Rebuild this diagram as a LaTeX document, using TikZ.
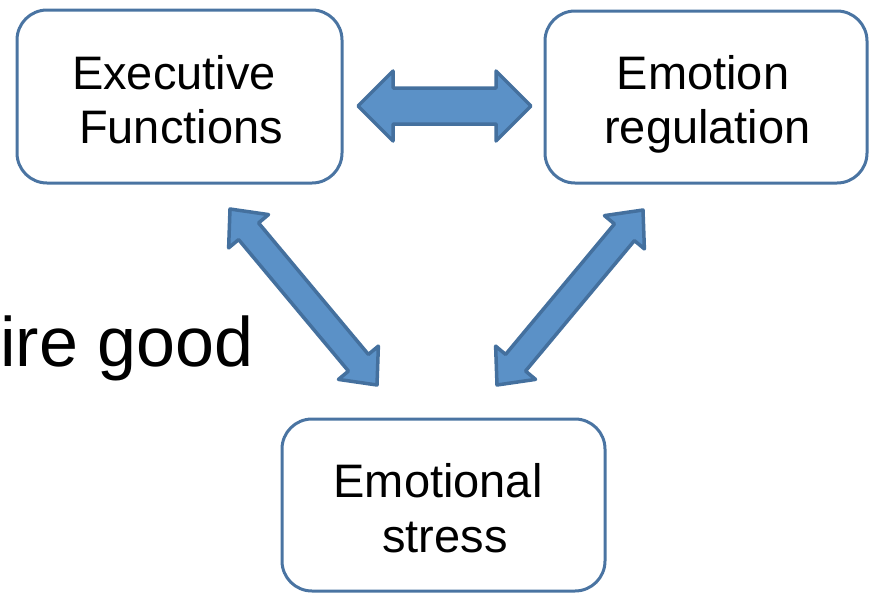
\documentclass[tikz,border=0pt]{standalone}
\usepackage{fontspec}
\setmainfont{Liberation Sans}
\usetikzlibrary{calc}
\definecolor{boxline}{RGB}{74,116,162}
\definecolor{arrfill}{RGB}{91,145,199}
\definecolor{arrline}{RGB}{68,112,158}
\newcommand\dblarr[5]{%
  \coordinate (#1-h) at ($(#1)!#3!(#2)$);
  \coordinate (#2-h) at ($(#2)!#3!(#1)$);
  \filldraw[fatarrow] (#1)
    -- ($(#1-h)!#4!90:(#2)$)
    -- ($(#1-h)!#5!90:(#2)$)
    -- ($(#2-h)!#5!-90:(#1)$)
    -- ($(#2-h)!#4!-90:(#1)$)
    -- (#2)
    -- ($(#2-h)!#4!90:(#1)$)
    -- ($(#2-h)!#5!90:(#1)$)
    -- ($(#1-h)!#5!-90:(#2)$)
    -- ($(#1-h)!#4!-90:(#2)$)
    -- cycle;}
\begin{document}
\begin{tikzpicture}[x=1pt,y=-1pt,
  box/.style={draw=boxline, line width=3pt, rounded corners=30pt, rectangle, inner sep=0pt},
  lbl/.style={font=\fontsize{47}{53}\selectfont, inner sep=0pt, anchor=base},
  fatarrow/.style={fill=arrfill, draw=arrline, line width=3.5pt, line join=round}]
\useasboundingbox (0,0) rectangle (870,592);
% boxes
\node[box, minimum width=325pt, minimum height=173pt] (ef) at (179.5,96.5) {};
\node[box, minimum width=322pt, minimum height=172pt] (er) at (706,97) {};
\node[box, minimum width=323pt, minimum height=172pt] (es) at (443.5,505) {};
% texts
\node[lbl] (ef1) at (174,89) {Executive};
\node[lbl] (ef2) at (181,143) {Functions};
\node[lbl] (er1) at (703,89) {Emotion};
\node[lbl] (er2) at (707.5,143) {regulation};
\node[lbl] (es1) at (438,497) {Emotional};
\node[lbl] (es2) at (445,552) {stress};
\node[font=\fontsize{70}{80}\selectfont, inner sep=0pt, anchor=base west] (ire) at (0,366) {ire good};
% arrow end points
\coordinate (efE) at (358,106);
\coordinate (erW) at (531,106);
\coordinate (efS) at (230,209);
\coordinate (esNW) at (377,385);
\coordinate (erS) at (643,210);
\coordinate (esNE) at (497,385);
% arrows
\dblarr{efE}{erW}{35pt}{35pt}{18pt}
\dblarr{efS}{esNW}{29pt}{26pt}{13pt}
\dblarr{erS}{esNE}{29pt}{26pt}{13pt}
\end{tikzpicture}
\end{document}
